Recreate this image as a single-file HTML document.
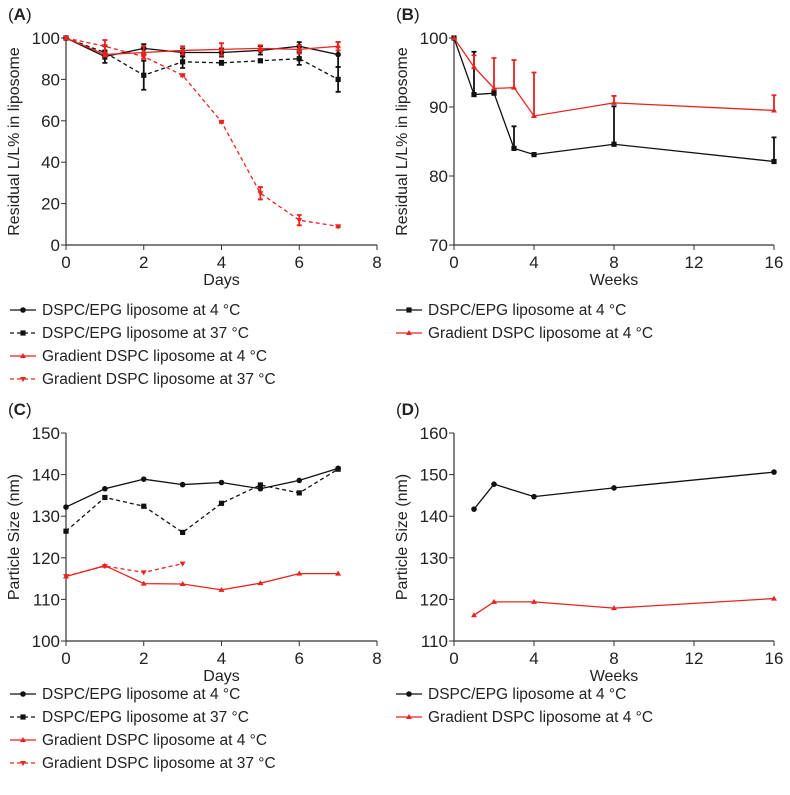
<!DOCTYPE html>
<html><head><meta charset="utf-8"><style>
body{margin:0;background:#fff}
svg text{font-family:"Liberation Sans",sans-serif;fill:#222}
</style></head><body>
<svg id="s" width="790" height="790" viewBox="0 0 790 790"></svg>
<script>
const xA=[0,1,2,3,4,5,6,7];
const a_epg4=[100,91,95,93,93,94,96,92];
const a_epg4_err=[0,3,2,2,2,2,2,6];
const a_epg37=[100,93,82,88.5,88,89,90,80];
const a_epg37_err=[0,3,7,3,1,0.5,3,6];
const a_gr4=[100,92,93,94,94.5,95,94.5,96];
const a_gr4_err=[0,1,3,2,3,1.5,2,2];
const a_gr37=[100,96,91,82,59.5,25,12,9];
const a_gr37_err=[0,3,1,0.5,0.5,3,2.5,0.5];
const xB=[0,1,2,3,4,8,16];
const b_epg=[100,91.8,92,84,83.1,84.6,82.1];
const b_epg_err=[0,6.2,0.5,3.2,0,5.5,3.5];
const b_gr=[100,95.8,92.7,92.8,88.7,90.6,89.5];
const b_gr_err=[0,1.7,4.4,4,6.3,1,2.2];
const xC=[0,1,2,3,4,5,6,7];
const c_epg4=[132.2,136.6,138.9,137.6,138.1,136.6,138.6,141.5];
const c_epg37=[126.4,134.5,132.4,126.1,133.1,137.5,135.6,141.3];
const c_gr4=[115.5,118.1,113.8,113.7,112.3,113.9,116.2,116.2];
const xC37=[0,1,2,3];
const c_gr37=[115.6,118,116.5,118.6];
const xD=[1,2,4,8,16];
const d_epg=[141.7,147.7,144.7,146.8,150.6];
const d_gr=[116.2,119.4,119.4,117.9,120.2];
const ticksA=[0,20,40,60,80,100], ticksB=[70,80,90,100], ticksC=[100,110,120,130,140,150], ticksD=[110,120,130,140,150,160];
const xticks8=[0,2,4,6,8], xticks16=[0,4,8,12,16];

const S=document.getElementById('s');const NS='http://www.w3.org/2000/svg';
function el(t,a,p){const e=document.createElementNS(NS,t);for(const k in a)e.setAttribute(k,a[k]);(p||S).appendChild(e);return e;}
function txt(x,y,s,size,anchor,p,extra){const e=el('text',Object.assign({x:x,y:y,'font-size':size,'text-anchor':anchor||'start'},extra||{}),p);e.textContent=s;return e;}
function marker(g,type,x,y,c){
  if(type==='c')return el('circle',{cx:x,cy:y,r:2.8,fill:c},g);
  if(type==='s')return el('rect',{x:x-2.6,y:y-2.6,width:5.2,height:5.2,fill:c},g);
  if(type==='u')return el('path',{d:`M${x} ${y-3}L${x+3} ${y+2}L${x-3} ${y+2}Z`,fill:c},g);
  return el('path',{d:`M${x} ${y+3}L${x+3} ${y-2}L${x-3} ${y-2}Z`,fill:c},g);
}
function panel(o){
  const g=el('g',{});
  
  
  const sx=v=>o.x0+(v-o.xmin)/(o.xmax-o.xmin)*(o.x1-o.x0);
  const sy=v=>o.y1-(v-o.ymin)/(o.ymax-o.ymin)*(o.y1-o.y0);
  const lab=txt(o.x0-58,o.y0-18,'',17,'start',g,{'font-weight':'normal'});
  lab.innerHTML='(<tspan font-weight="bold">'+o.letter+'</tspan>)';
  
  const ax=el('path',{d:`M${o.x0} ${o.y0}V${o.y1}H${o.x1}`,stroke:'#333','stroke-width':1.2,fill:'none'},g);
  
  o.yt.forEach(v=>{el('line',{x1:o.x0-5,x2:o.x0,y1:sy(v),y2:sy(v),stroke:'#333'},g);const t=txt(o.x0-6,sy(v)+6,String(v),17,'end',g);});
  o.xt.forEach(v=>{el('line',{x1:sx(v),x2:sx(v),y1:o.y1,y2:o.y1+5,stroke:'#333'},g);const t=txt(sx(v),o.y1+23,String(v),17,'middle',g);});
  const xt=txt((o.x0+o.x1)/2,o.y1+40,o.xlabel,16,'middle',g);
  const yc=(o.y0+o.y1)/2;
  const yt=txt(o.x0-47,yc,o.ylabel,16,'middle',g,{transform:`rotate(-90 ${o.x0-47} ${yc})`});
  o.series.forEach((s,i)=>{
    const sg=el('g',{},g);
    
    
    if(s.err){s.y.forEach((v,j)=>{if(!s.err[j])return;const X=sx(s.x[j]);const lo=s.up?v:v-s.err[j];const hi=v+s.err[j];el('path',{d:`M${X} ${sy(lo)}V${sy(hi)}M${X-2.5} ${sy(hi)}H${X+2.5}`+(s.up?'':`M${X-2.5} ${sy(lo)}H${X+2.5}`),stroke:s.c,'stroke-width':1.8,fill:'none'},sg);});}
    el('polyline',{points:s.y.map((v,j)=>sx(s.x[j])+','+sy(v)).join(' '),fill:'none',stroke:s.c,'stroke-width':1.3,'stroke-dasharray':s.dash?'4,3':'none'},sg);
    s.y.forEach((v,j)=>marker(sg,s.m,sx(s.x[j]),sy(v),s.c));
    const ly=o.ly+i*23;
    const lg=el('g',{},g);
    
    
    el('line',{x1:o.lx,x2:o.lx+26,y1:ly,y2:ly,stroke:s.c,'stroke-width':1.3,'stroke-dasharray':s.dash?'4,3':'none'},lg);
    marker(lg,s.m,o.lx+13,ly,s.c);
    txt(o.lx+32,ly+5,s.label,15.5,'start',lg);
  });
}
const L1='DSPC/EPG liposome at 4 °C',L2='DSPC/EPG liposome at 37 °C',L3='Gradient DSPC liposome at 4 °C',L4='Gradient DSPC liposome at 37 °C';
const RED='#e8241f';
panel({name:'panel-a',letter:'A',x0:66,x1:377,y0:38,y1:245,xmin:0,xmax:8,ymin:0,ymax:100,yt:ticksA,xt:xticks8,xlabel:'Days',ylabel:'Residual L/L% in liposome',lx:10,ly:310,
 series:[{key:'epg-4',x:xA,y:a_epg4,err:a_epg4_err,c:'#111',m:'c',label:L1},{key:'epg-37',x:xA,y:a_epg37,err:a_epg37_err,c:'#111',m:'s',dash:1,label:L2},{key:'gradient-4',x:xA,y:a_gr4,err:a_gr4_err,c:RED,m:'u',label:L3},{key:'gradient-37',x:xA,y:a_gr37,err:a_gr37_err,c:RED,m:'d',dash:1,label:L4}]});
panel({name:'panel-b',letter:'B',x0:454,x1:774,y0:38,y1:245,xmin:0,xmax:16,ymin:70,ymax:100,yt:ticksB,xt:xticks16,xlabel:'Weeks',ylabel:'Residual L/L% in liposome',lx:396,ly:310,
 series:[{key:'epg-4',x:xB,y:b_epg,err:b_epg_err,up:1,c:'#111',m:'s',label:L1},{key:'gradient-4',x:xB,y:b_gr,err:b_gr_err,up:1,c:RED,m:'u',label:L3}]});
panel({name:'panel-c',letter:'C',x0:66,x1:377,y0:433,y1:641,xmin:0,xmax:8,ymin:100,ymax:150,yt:ticksC,xt:xticks8,xlabel:'Days',ylabel:'Particle Size (nm)',lx:10,ly:694,
 series:[{key:'epg-4',x:xC,y:c_epg4,c:'#111',m:'c',label:L1},{key:'epg-37',x:xC,y:c_epg37,c:'#111',m:'s',dash:1,label:L2},{key:'gradient-4',x:xC,y:c_gr4,c:RED,m:'u',label:L3},{key:'gradient-37',x:xC37,y:c_gr37,c:RED,m:'d',dash:1,label:L4}]});
panel({name:'panel-d',letter:'D',x0:454,x1:774,y0:433,y1:641,xmin:0,xmax:16,ymin:110,ymax:160,yt:ticksD,xt:xticks16,xlabel:'Weeks',ylabel:'Particle Size (nm)',lx:396,ly:694,
 series:[{key:'epg-4',x:xD,y:d_epg,c:'#111',m:'c',label:L1},{key:'gradient-4',x:xD,y:d_gr,c:RED,m:'u',label:L3}]});
</script>
</body></html>
